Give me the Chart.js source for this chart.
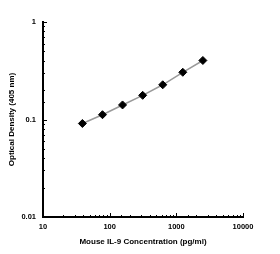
<!DOCTYPE html>
<html>
<head>
<meta charset="utf-8">
<script src="https://cdn.jsdelivr.net/npm/chart.js@4"></script>
<style>
  html, body { margin: 0; padding: 0; background: #fff; }
  #wrap { width: 280px; height: 254px; position: relative; }
</style>
</head>
<body>
<div id="wrap"><canvas id="chart"></canvas></div>
<script>
// concentration (pg/ml) vs optical density
const concentrations = [39, 78, 156, 312.5, 625, 1250, 2500];
const odValues       = [0.091, 0.112, 0.141, 0.177, 0.227, 0.305, 0.403];
const xTickLabels    = [10, 100, 1000, 10000];
const yTickLabels    = [0.01, 0.1, 1];

const FONT = 'Liberation Sans, Arial, sans-serif';

function isMajor(v, list) {
  return list.some(t => Math.abs(Math.log10(v) - Math.log10(t)) < 1e-6);
}

// small tick marks pointing into the plot
const innerTicks = {
  id: 'innerTicks',
  afterDraw(chart) {
    const ctx = chart.ctx;
    const { x, y } = chart.scales;
    ctx.save();
    ctx.strokeStyle = '#000';
    ctx.lineWidth = 1;
    x.ticks.forEach(t => {
      const px = Math.round(x.getPixelForValue(t.value)) + 0.5;
      const len = isMajor(t.value, xTickLabels) ? 4 : 2;
      ctx.beginPath();
      ctx.moveTo(px, y.bottom);
      ctx.lineTo(px, y.bottom - len);
      ctx.stroke();
    });
    y.ticks.forEach(t => {
      const py = Math.round(y.getPixelForValue(t.value)) + 0.5;
      const len = isMajor(t.value, yTickLabels) ? 4 : 2;
      ctx.beginPath();
      ctx.moveTo(x.left, py);
      ctx.lineTo(x.left + len, py);
      ctx.stroke();
    });
    ctx.restore();
  }
};

new Chart(document.getElementById('chart'), {
  type: 'line',
  data: {
    datasets: [{
      data: concentrations.map((c, i) => ({ x: c, y: odValues[i] })),
      borderColor: '#9a9a9a',
      borderWidth: 1.5,
      pointStyle: 'rectRot',
      pointRadius: 4,
      pointBackgroundColor: '#000',
      pointBorderColor: '#000',
      pointBorderWidth: 1,
      tension: 0,
    }]
  },
  options: {
    responsive: true,
    maintainAspectRatio: false,
    animation: false,
    devicePixelRatio: 1,
    layout: { padding: { top: 22, right: 37, bottom: 5, left: 0 } },
    plugins: { legend: { display: false }, tooltip: { enabled: false } },
    scales: {
      x: {
        type: 'logarithmic',
        min: 10, max: 10000,
        afterFit: s => { s.height = 32; },
        grid: { display: false, drawTicks: false },
        border: { display: true, color: '#000', width: 2 },
        ticks: {
          autoSkip: false, maxRotation: 0, padding: 5,
          color: '#000', font: { family: FONT, size: 7.5, weight: 'bold' },
          callback: v => isMajor(v, xTickLabels) ? String(Math.round(v)) : ''
        },
        title: {
          display: true, text: 'Mouse IL-9 Concentration (pg/ml)',
          color: '#000', font: { family: FONT, size: 8, weight: 'bold' },
          padding: { top: 2, bottom: 2 }
        }
      },
      y: {
        type: 'logarithmic',
        min: 0.01, max: 1,
        afterFit: s => { s.width = 43; },
        grid: { display: false, drawTicks: false },
        border: { display: true, color: '#000', width: 2 },
        ticks: {
          autoSkip: false, padding: 7,
          color: '#000', font: { family: FONT, size: 7.5, weight: 'bold' },
          callback: v => {
            if (!isMajor(v, yTickLabels)) return '';
            const e = Math.round(Math.log10(v));
            return e >= 0 ? String(Math.pow(10, e)) : Math.pow(10, e).toFixed(-e);
          }
        },
        title: {
          display: true, text: 'Optical Density (405 nm)',
          color: '#000', font: { family: FONT, size: 8, weight: 'bold' },
          padding: { top: 7, bottom: 2 }
        }
      }
    }
  },
  plugins: [innerTicks]
});
</script>
</body>
</html>
